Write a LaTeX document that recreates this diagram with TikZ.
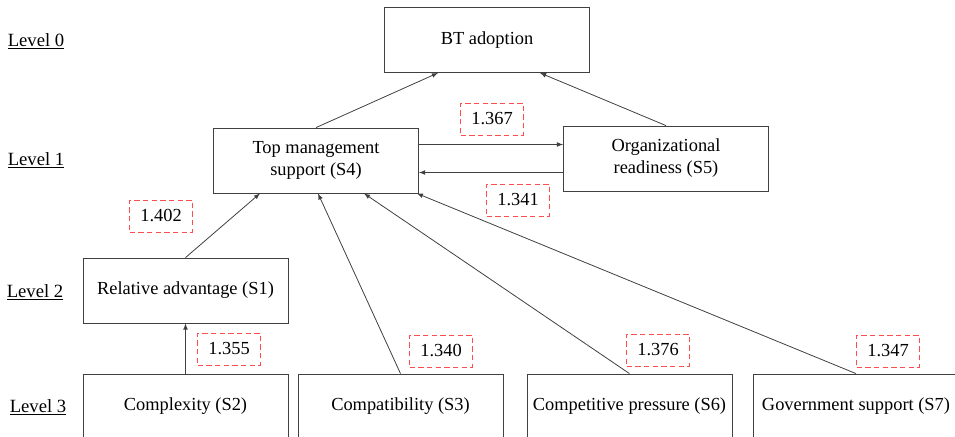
\documentclass[tikz,border=0pt]{standalone}
\usepackage{fontspec}
\setmainfont{Liberation Serif}
\begin{document}
\begin{tikzpicture}[>=latex, x=0.75pt, y=-0.75pt,
  font=\fontsize{13.8}{16.5}\selectfont,
  box/.style={draw=black!75, line width=0.6pt, minimum width=153.75pt, minimum height=48.75pt, align=center, inner sep=2pt},
  val/.style={draw=red!70!white, dashed, dash pattern=on 4pt off 2.5pt, line width=0.6pt, minimum width=47pt, minimum height=24pt, inner sep=1pt},
  lvl/.style={font=\fontsize{14}{16.5}\selectfont},
  link/.style={->, draw=black!75, line width=0.6pt}]

\useasboundingbox (0,0) rectangle (955,436);
\clip (0,0) rectangle (955,436);

% level labels
\node[lvl] (l0) at (36,41)  {\underline{Level 0}};
\node[lvl] (l1) at (36,160) {\underline{Level 1}};
\node[lvl] (l2) at (35,292) {\underline{Level 2}};
\node[lvl] (l3) at (38,407) {\underline{Level 3}};

% factors
\node[box] (bt)  at (487,40)    {BT adoption};
\node[box] (tms) at (316,160.5) {Top management\\support (S4)};
\node[box] (org) at (666,158.5) {Organizational\\readiness (S5)};
\node[box] (ra)  at (185.5,290.5) {Relative advantage (S1)};
\node[box] (cx)  at (185.5,406.5) {Complexity (S2)};
\node[box] (cp)  at (400.5,406.5) {Compatibility (S3)};
\node[box] (cm)  at (629.5,406.5) {Competitive pressure (S6)};
\node[box] (gs)  at (856,406.5)   {Government support (S7)};

% values
\node[val] (v367) at (492,119) {1.367};
\node[val] (v341) at (518,200) {1.341};
\node[val] (v402) at (161,216) {1.402};
\node[val] (v355) at (229,349) {1.355};
\node[val] (v340) at (441,351) {1.340};
\node[val] (v376) at (658,350) {1.376};
\node[val] (v347) at (888,351) {1.347};

% links
\draw[link] (tms.north) -- ([xshift=-36.75pt]bt.south);
\draw[link] (org.north) -- ([xshift=39.75pt]bt.south);
\draw[link] ([yshift=12pt]tms.east) -- ([yshift=12pt]tms.east -| org.west);
\draw[link] ([yshift=-10.5pt]org.west) -- ([yshift=-10.5pt]org.west -| tms.east);
\draw[link] (ra.north) -- ([xshift=-42pt]tms.south);
\draw[link] (cx.north) -- (ra.south);
\draw[link] (cp.north) -- ([xshift=1.5pt]tms.south);
\draw[link] (cm.north) -- ([xshift=36pt]tms.south);
\draw[link] (gs.north) -- ([xshift=-1.5pt]tms.south east);

\end{tikzpicture}
\end{document}
